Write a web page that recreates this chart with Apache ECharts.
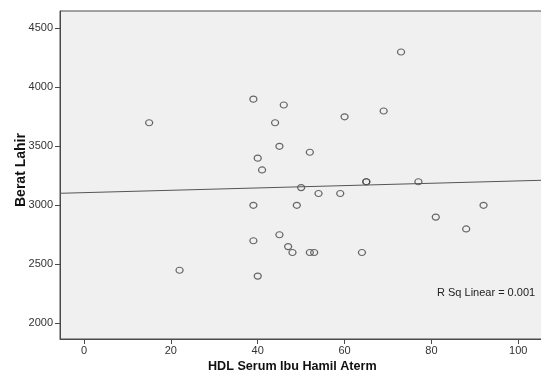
<!DOCTYPE html>
<html>
<head>
<meta charset="utf-8">
<script src="https://cdn.jsdelivr.net/npm/echarts@6/dist/echarts.min.js"></script>
<style>
  html, body { margin: 0; padding: 0; background: #fff; }
  #main { width: 541px; height: 376px; }
</style>
</head>
<body>
<div id="main"></div>
<script>
// HDL serum (x) vs birth weight (y)
var hdl = [15, 22, 39, 46, 44, 45, 52, 40, 41, 60, 69, 73, 50, 54, 59, 65, 65, 77,
           39, 49, 45, 39, 47, 48, 52, 53, 64, 40, 81, 92, 88];
var berat = [3700, 2450, 3900, 3850, 3700, 3500, 3450, 3400, 3300, 3750, 3800, 4300, 3150, 3100, 3100, 3200, 3200, 3200,
             3000, 3000, 2750, 2700, 2650, 2600, 2600, 2600, 2600, 2400, 2900, 3000, 2800];
// fitted linear line end points
var fitX = [-5.5, 106.2];
var fitY = [3102, 3213];
var xTicks = [0, 20, 40, 60, 80, 100];
var yTicks = [2000, 2500, 3000, 3500, 4000, 4500];

var points = hdl.map(function (v, i) { return [v, berat[i]]; });
var fitLine = fitX.map(function (v, i) { return [v, fitY[i]]; });

var myChart = echarts.init(document.getElementById('main'));
var lineCol = '#4a4a4a';
var labelStyle = {
    color: '#333', fontFamily: 'Liberation Sans, Arial, sans-serif', fontSize: 11,
    formatter: function (v) { return String(v); }
};

myChart.setOption({
    animation: false,
    grid: {
        left: 60, top: 11, right: -4, bottom: 37,
        containLabel: false, outerBoundsMode: 'none',
        show: true, backgroundColor: '#f0f0f0', borderColor: lineCol, borderWidth: 1
    },
    xAxis: {
        type: 'value', min: -5.53, max: 106.15,
        splitLine: { show: false },
        axisLine: { show: true, onZero: false, lineStyle: { color: lineCol } },
        axisTick: { show: true, inside: false, length: 5, customValues: xTicks, lineStyle: { color: lineCol } },
        axisLabel: Object.assign({ customValues: xTicks, margin: 6 }, labelStyle)
    },
    yAxis: {
        type: 'value', min: 1867, max: 4647,
        splitLine: { show: false },
        axisLine: { show: true, onZero: false, lineStyle: { color: lineCol } },
        axisTick: { show: true, inside: false, length: 5, customValues: yTicks, lineStyle: { color: lineCol } },
        axisLabel: Object.assign({ customValues: yTicks, margin: 7 }, labelStyle)
    },
    graphic: [
        {
            type: 'text', left: 208, top: 360,
            style: { text: 'HDL Serum Ibu Hamil Aterm', font: 'bold 12.6px "Liberation Sans", Arial, sans-serif', fill: '#111' }
        },
        {
            type: 'text', x: 14, y: 207, rotation: Math.PI / 2,
            style: { text: 'Berat Lahir', font: 'bold 14px "Liberation Sans", Arial, sans-serif', fill: '#111' }
        },
        {
            type: 'text', left: 437, top: 287,
            style: { text: 'R Sq Linear = 0.001', font: '11px "Liberation Sans", Arial, sans-serif', fill: '#222' }
        }
    ],
    series: [
        {
            type: 'line', data: fitLine, symbol: 'none', silent: true,
            lineStyle: { color: '#555', width: 1 }
        },
        {
            type: 'scatter', data: points, symbol: 'circle', symbolSize: [7, 6],
            itemStyle: { color: 'rgba(0,0,0,0)', borderColor: '#444', borderWidth: 1.2 }
        }
    ]
});
</script>
</body>
</html>
